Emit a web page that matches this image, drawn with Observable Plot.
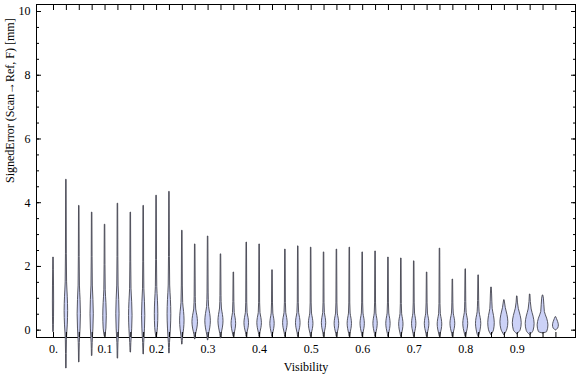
<!DOCTYPE html>
<html><head><meta charset="utf-8">
<script src="https://cdn.jsdelivr.net/npm/d3@7"></script>
<script src="https://cdn.jsdelivr.net/npm/@observablehq/plot@0.6"></script>
<style>body{margin:0;background:#fff;} #chart svg{display:block;}</style>
</head><body><div id="chart"></div>
<script>
// Visibility bins (violin centers)
const visibility = [0,0.025,0.05,0.075,0.1,0.125,0.15,0.175,0.2,0.225,0.25,0.275,0.3,0.325,0.35,0.375,0.4,0.425,0.45,0.475,0.5,0.525,0.55,0.575,0.6,0.625,0.65,0.675,0.7,0.725,0.75,0.775,0.8,0.825,0.85,0.875,0.9,0.925,0.95,0.975];
// Max signed error per bin [mm]
const maxErr = [2.28,4.72,3.9,3.69,3.31,3.97,3.69,3.9,4.22,4.34,3.12,2.69,2.94,2.38,1.81,2.75,2.69,1.88,2.53,2.63,2.59,2.44,2.53,2.59,2.44,2.47,2.28,2.25,2.16,1.81,2.56,1.59,1.91,1.72,1.34,0.94,1.06,1.12,1.09,0.41];
// Min signed error per bin [mm]
const minErr = [-0.05,-1.19,-1.0,-0.8,-0.2,-0.88,-0.69,-0.75,-0.22,-0.72,-0.44,-0.28,-0.31,-0.25,-0.2,-0.2,-0.2,-0.2,-0.2,-0.2,-0.2,-0.2,-0.2,-0.2,-0.2,-0.2,-0.2,-0.2,-0.2,-0.2,-0.2,-0.2,-0.2,-0.2,-0.15,-0.15,-0.12,-0.15,-0.1,0.0];
// Most frequent error (density peak) per bin [mm]
const modeErr = [0.9,0.6,0.5,0.5,0.45,0.5,0.45,0.45,0.5,0.5,0.3,0.25,0.28,0.28,0.2,0.22,0.22,0.2,0.22,0.22,0.2,0.22,0.2,0.2,0.2,0.2,0.2,0.18,0.2,0.2,0.18,0.2,0.2,0.2,0.22,0.25,0.22,0.2,0.15,0.15];
// Half-height of the bulk of the distribution per bin [mm]
const spreadErr = [1.0,0.9,0.9,0.9,0.8,0.9,0.85,0.85,0.85,0.9,0.55,0.4,0.45,0.4,0.34,0.32,0.32,0.32,0.32,0.32,0.32,0.32,0.32,0.32,0.32,0.32,0.32,0.32,0.32,0.32,0.32,0.32,0.34,0.36,0.45,0.45,0.45,0.45,0.42,0.2];
// Relative peak density per bin
const peakDensity = [0.06,0.25,0.23,0.23,0.25,0.23,0.25,0.23,0.25,0.27,0.33,0.42,0.42,0.38,0.34,0.34,0.34,0.32,0.34,0.34,0.34,0.32,0.34,0.32,0.32,0.32,0.32,0.32,0.32,0.34,0.34,0.36,0.37,0.4,0.5,0.62,0.7,0.7,0.86,0.45];

const xTickValues = [0,0.1,0.2,0.3,0.4,0.5,0.6,0.7,0.8,0.9];
const xTickLabels = ["0.","0.1","0.2","0.3","0.4","0.5","0.6","0.7","0.8","0.9"];
const yTickValues = [0,2,4,6,8,10];
const yMinorTicks = d3.range(0, 10.001, 0.5);

const W = 576, H = 377, mL = 36, mR = 1, mT = 4, mB = 40;
const xDomain = [-0.033, 1.013];
const yDomain = [-0.23, 10.22];
const pxPerX = (W - mL - mR) / (xDomain[1] - xDomain[0]);
const MAXHW = 6; // px half-width for density 1

// violin outline template: [offset in spreads, relative width]
const template = [[-1,0.2],[-0.5,0.75],[0,1],[0.5,0.75],[1,0.3],[2,0.12]];
const rows = [];
visibility.forEach((v, i) => {
  const pts = [[minErr[i], 0]];
  template.forEach(([o, r]) => {
    const y = modeErr[i] + o * spreadErr[i];
    if (y > minErr[i] + 0.02 && y < maxErr[i] - 0.02) pts.push([y, r * peakDensity[i]]);
  });
  pts.push([maxErr[i], 0]);
  pts.forEach(([y, d]) => {
    const hw = (d * MAXHW + 0.25) / pxPerX;
    rows.push({k: i, y, x1: v - hw, x2: v + hw});
  });
});

const chart = Plot.plot({
  width: W, height: H,
  marginLeft: mL, marginRight: mR, marginTop: mT, marginBottom: mB,
  style: {fontFamily: "'Liberation Serif', 'Times New Roman', serif", fontSize: "12px", color: "black", background: "white"},
  x: {domain: xDomain, axis: null},
  y: {domain: yDomain, axis: null},
  marks: [
    Plot.frame({stroke: "black", strokeWidth: 1}),
    Plot.areaX(rows, {y: "y", x1: "x1", x2: "x2", z: "k", fill: "#ccd2f7", stroke: "#45454f", strokeWidth: 0.9, curve: "monotone-y"}),
    // left axis
    Plot.axisY(yMinorTicks, {anchor: "left", tickSize: -3, fill: "none", label: null}),
    Plot.axisY(yTickValues, {anchor: "left", tickSize: -5, tickPadding: 11, label: null, tickFormat: d => String(d)}),
    // right axis
    Plot.axisY(yMinorTicks, {anchor: "right", tickSize: -3, fill: "none", label: null}),
    Plot.axisY(yTickValues, {anchor: "right", tickSize: -5, fill: "none", label: null}),
    // top & bottom ticks at violin positions
    Plot.axisX(visibility, {anchor: "top", tickSize: -5, fill: "none", label: null}),
    Plot.axisX(visibility, {anchor: "bottom", tickSize: -5, fill: "none", label: null}),
    Plot.axisX(xTickValues, {anchor: "bottom", tickSize: 0, tickPadding: 7, label: null, tickFormat: d => xTickLabels[xTickValues.indexOf(d)]}),
    Plot.text(["Visibility"], {frameAnchor: "bottom", dy: 33, fontSize: 12}),
    Plot.text(["SignedError (Scan\u2192Ref, F) [mm]"], {frameAnchor: "left", rotate: -90, dx: -26, dy: 12, fontSize: 12})
  ]
});
document.getElementById("chart").appendChild(chart);
</script>
</body></html>
